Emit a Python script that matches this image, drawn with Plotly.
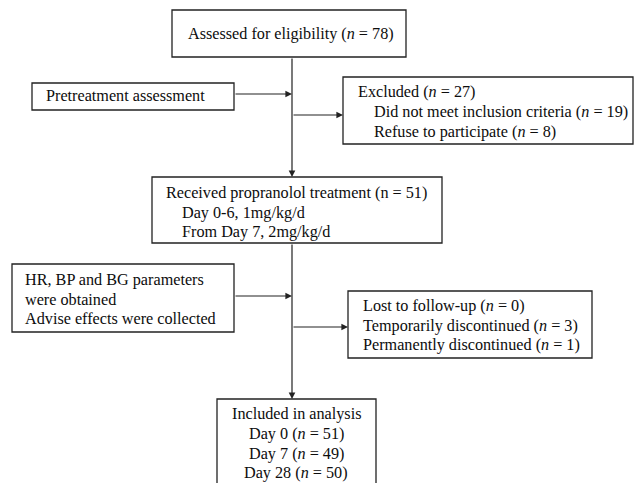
import plotly.graph_objects as go

# ---- data (texts and counts) ----
assessed_n = 78
excluded_n = 27
excluded_reasons = ["Did not meet inclusion criteria", "Refuse to participate"]
excluded_reason_n = [19, 8]
treated_n = 51
treatment_lines = ["Day 0-6, 1mg/kg/d", "From Day 7, 2mg/kg/d"]
pre_text = ["Pretreatment assessment"]
monitor_text = ["HR, BP and BG parameters", "were obtained", "Advise effects were collected"]
lost_labels = ["Lost to follow-up", "Temporarily discontinued", "Permanently discontinued"]
lost_n = [0, 3, 1]
analysis_days = ["Day 0", "Day 7", "Day 28"]
analysis_n = [51, 49, 50]

def nn(v):
    return f"(<i>n</i> = {v})"

# ---- layout geometry (pixels, y downwards) ----
W, H = 635, 483
FONT = dict(family="Liberation Serif, Times New Roman, serif", size=16.2, color="#0d0d0d")
LC = "#222222"
LW = 1.3
CX = 292

boxes = {
    "assessed": (172, 10, 406, 57),
    "pre": (32, 83, 234, 110),
    "excluded": (343, 77, 633, 144),
    "treated": (152, 177, 442, 243),
    "monitor": (12, 264, 234, 332),
    "lost": (348, 291, 592, 358),
    "analysis": (217, 399, 376, 520),
}

fig = go.Figure()
shapes = []
for (x0, y0, x1, y1) in boxes.values():
    shapes.append(dict(type="rect", xref="x", yref="y", x0=x0, y0=y0, x1=x1, y1=y1,
                       line=dict(color=LC, width=LW), fillcolor="rgba(0,0,0,0)", layer="above"))

annotations = []

def arrow(x0, y0, x1, y1):
    annotations.append(dict(x=x1, y=y1, ax=x0, ay=y0, xref="x", yref="y", axref="x", ayref="y",
                            text="", showarrow=True, arrowhead=2, arrowsize=1.1, arrowwidth=1.2,
                            arrowcolor=LC, standoff=0, startstandoff=0))

def label(x, y, t, anchor="left"):
    annotations.append(dict(x=x, y=y, xref="x", yref="y", text=t, showarrow=False,
                            xanchor=anchor, yanchor="middle", font=FONT, align=anchor))

# connectors
arrow(CX, 57, CX, 177)
arrow(CX, 243, CX, 399)
arrow(234, 94, CX, 94)
arrow(CX, 115, 343, 115)
arrow(234, 296, CX, 296)
arrow(CX, 327, 348, 327)

# texts
label(291, 34, f"Assessed for eligibility {nn(assessed_n)}", "center")
label(44, 96, pre_text[0])
label(356, 92, f"Excluded {nn(excluded_n)}")
for i, (r, v) in enumerate(zip(excluded_reasons, excluded_reason_n)):
    label(372, 112 + 19.5 * i, f"{r} {nn(v)}")
label(164, 193, f"Received propranolol treatment (n = {treated_n})")
for i, t in enumerate(treatment_lines):
    label(180, 212.5 + 19.5 * i, t)
for i, t in enumerate(monitor_text):
    label(23, 280 + 19.5 * i, t)
for i, (t, v) in enumerate(zip(lost_labels, lost_n)):
    label(361, 306 + 19.5 * i, f"{t} {nn(v)}")
label(296, 414, "Included in analysis", "center")
for i, (d, v) in enumerate(zip(analysis_days, analysis_n)):
    label(296, 434 + 19.5 * i, f"{d} {nn(v)}", "center")

fig.update_layout(
    width=W, height=H, margin=dict(l=0, r=0, t=0, b=0),
    paper_bgcolor="white", plot_bgcolor="white",
    xaxis=dict(range=[0, W], visible=False, fixedrange=True),
    yaxis=dict(range=[H, 0], visible=False, fixedrange=True),
    shapes=shapes, annotations=annotations, showlegend=False,
)
fig.write_html(
    "out.html",
    config={"displayModeBar": False, "staticPlot": True},
    post_script="document.body.style.margin='0';document.body.style.overflow='hidden';",
)
